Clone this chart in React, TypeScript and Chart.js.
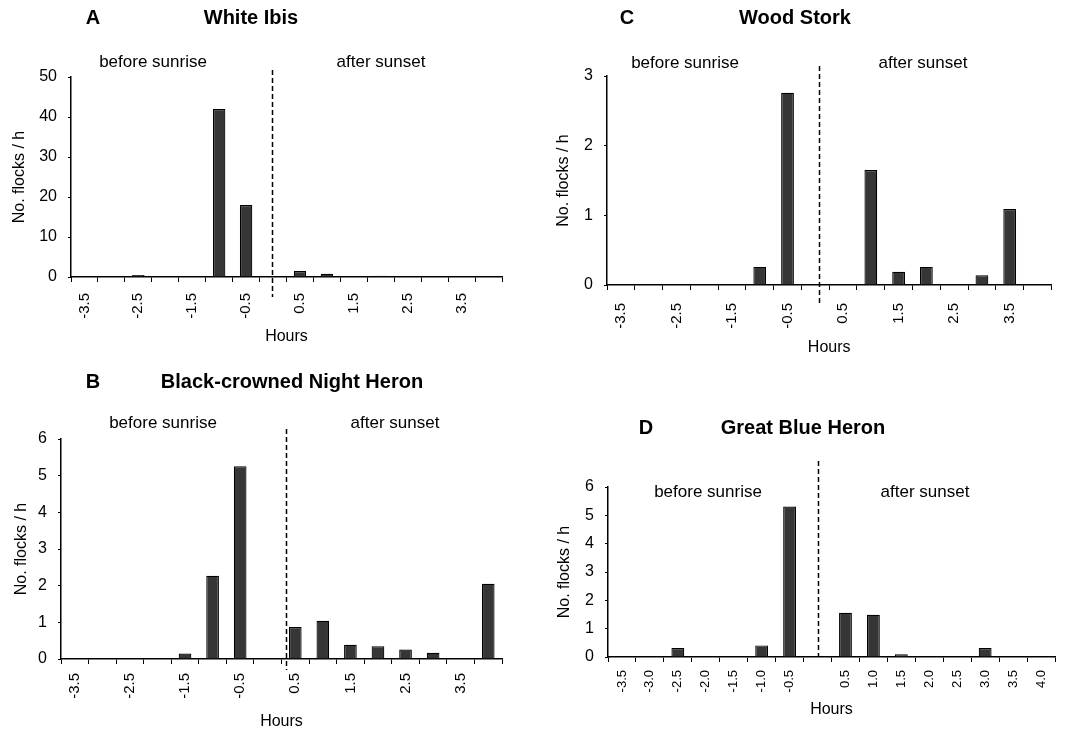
import React, { useEffect, useRef } from 'react';
import { Chart, registerables } from 'chart.js';

Chart.register(...registerables);

// ---------- data ----------
const hourCategories = ['-3.5', '-3.0', '-2.5', '-2.0', '-1.5', '-1.0', '-0.5', '', '0.5', '1.0', '1.5', '2.0', '2.5', '3.0', '3.5', '4.0'];
const sparseTickLabels = ['-3.5', '', '-2.5', '', '-1.5', '', '-0.5', '', '0.5', '', '1.5', '', '2.5', '', '3.5', ''];
const fullTickLabels = ['-3.5', '-3.0', '-2.5', '-2.0', '-1.5', '-1.0', '-0.5', '', '0.5', '1.0', '1.5', '2.0', '2.5', '3.0', '3.5', '4.0'];

const whiteIbis = [0, 0, 0.5, 0, 0, 42, 18, 0, 1.5, 0.8, 0, 0.3, 0, 0, 0, 0];
const woodStork = [0, 0, 0, 0, 0, 0.26, 2.76, 0, 0, 1.65, 0.19, 0.26, 0, 0.14, 1.09, 0];
const nightHeron = [0, 0, 0, 0, 0.15, 2.27, 5.26, 0, 0.87, 1.04, 0.39, 0.35, 0.26, 0.17, 0, 2.05];
const blueHeron = [0, 0, 0.32, 0, 0, 0.41, 5.31, 0, 1.56, 1.49, 0.1, 0, 0, 0.32, 0, 0];

const yTicksIbis = [0, 10, 20, 30, 40, 50];
const yTicksStork = [0, 1, 2, 3];
const yTicksHeron = [0, 1, 2, 3, 4, 5, 6];

const FONT = '"Liberation Sans", Arial, Helvetica, sans-serif';

type Box = { x: number; y: number; w: number; h: number };
type Plot = { l: number; r: number; t: number; b: number };

type PanelSpec = {
  letter: string;
  title: string;
  values: number[];
  tickLabels: string[];
  yTicks: number[];
  dashAt: number;
  canvas: Box;
  plot: Plot;
  letterPos: [number, number];
  titlePos: [number, number];
  beforePos: [number, number];
  afterPos: [number, number];
  dashTop: number;
  dashBottom: number;
  hoursY: number;
  yTitleX: number;
  xTickSize: number;
  xTickPad: number;
};

const panels: PanelSpec[] = [
  {
    letter: 'A', title: 'White Ibis', values: whiteIbis, tickLabels: sparseTickLabels, yTicks: yTicksIbis,
    dashAt: 6.95,
    canvas: { x: 0, y: 0, w: 535, h: 360 },
    plot: { l: 71, r: 502, t: 77, b: 277 },
    letterPos: [93, 18], titlePos: [251, 18], beforePos: [153, 62], afterPos: [381, 62],
    dashTop: 70, dashBottom: 297, hoursY: 337, yTitleX: 20, xTickSize: 15, xTickPad: 11,
  },
  {
    letter: 'C', title: 'Wood Stork', values: woodStork, tickLabels: sparseTickLabels, yTicks: yTicksStork,
    dashAt: 7.14,
    canvas: { x: 535, y: 0, w: 534, h: 360 },
    plot: { l: 607, r: 1052, t: 76, b: 285 },
    letterPos: [627, 18], titlePos: [795, 18], beforePos: [685, 63], afterPos: [923, 63],
    dashTop: 66, dashBottom: 305, hoursY: 348, yTitleX: 564, xTickSize: 15, xTickPad: 13,
  },
  {
    letter: 'B', title: 'Black-crowned Night Heron', values: nightHeron, tickLabels: sparseTickLabels, yTicks: yTicksHeron,
    dashAt: 7.65,
    canvas: { x: 0, y: 360, w: 535, h: 374 },
    plot: { l: 61, r: 502, t: 439, b: 659 },
    letterPos: [93, 382], titlePos: [292, 382], beforePos: [163, 423], afterPos: [395, 423],
    dashTop: 429, dashBottom: 670, hoursY: 722, yTitleX: 22, xTickSize: 15, xTickPad: 9,
  },
  {
    letter: 'D', title: 'Great Blue Heron', values: blueHeron, tickLabels: fullTickLabels, yTicks: yTicksHeron,
    dashAt: 7.0,
    canvas: { x: 535, y: 380, w: 534, h: 354 },
    plot: { l: 608, r: 1055, t: 487, b: 657 },
    letterPos: [646, 428], titlePos: [803, 428], beforePos: [708, 492], afterPos: [925, 492],
    dashTop: 461, dashBottom: 657, hoursY: 710, yTitleX: 565, xTickSize: 13, xTickPad: 8,
  },
];

function Panel({ spec }: { spec: PanelSpec }) {
  const ref = useRef<HTMLCanvasElement | null>(null);

  useEffect(() => {
    const canvas = ref.current;
    if (!canvas) return;
    const { canvas: cb, plot } = spec;
    const lx = (x: number) => x - cb.x;
    const ly = (y: number) => y - cb.y;

    const annot = {
      id: 'panelAnnot' + spec.letter,
      afterDraw(chart: any) {
        const ctx = chart.ctx as CanvasRenderingContext2D;
        ctx.save();
        ctx.fillStyle = '#000';
        ctx.textAlign = 'center';
        ctx.textBaseline = 'middle';
        ctx.font = `bold 20px ${FONT}`;
        ctx.fillText(spec.letter, lx(spec.letterPos[0]), ly(spec.letterPos[1]));
        ctx.fillText(spec.title, lx(spec.titlePos[0]), ly(spec.titlePos[1]));
        ctx.font = `17px ${FONT}`;
        ctx.fillText('before sunrise', lx(spec.beforePos[0]), ly(spec.beforePos[1]));
        ctx.fillText('after sunset', lx(spec.afterPos[0]), ly(spec.afterPos[1]));
        const xs = chart.scales.x;
        const dx = Math.round(xs.getPixelForValue(spec.dashAt)) + 0.5;
        ctx.strokeStyle = '#000';
        ctx.lineWidth = 1.5;
        ctx.setLineDash([5, 3]);
        ctx.beginPath();
        ctx.moveTo(dx, ly(spec.dashTop));
        ctx.lineTo(dx, ly(spec.dashBottom));
        ctx.stroke();
        ctx.restore();
      },
    };

    const yMax = spec.yTicks[spec.yTicks.length - 1];
    const yStep = spec.yTicks[1] - spec.yTicks[0];

    const chart = new Chart(canvas, {
      type: 'bar',
      data: {
        labels: hourCategories,
        datasets: [
          {
            data: spec.values,
            backgroundColor: '#363636',
            borderColor: '#000',
            borderWidth: 1.2,
            barPercentage: 0.46,
            categoryPercentage: 1,
          },
        ],
      },
      options: {
        responsive: false,
        animation: false,
        layout: {
          padding: {
            left: 0,
            top: plot.t - cb.y,
            right: cb.x + cb.w - plot.r,
            bottom: 0,
          },
        },
        plugins: {
          legend: { display: false },
          tooltip: { enabled: false },
          title: { display: false },
        },
        scales: {
          x: {
            type: 'category',
            offset: true,
            grid: {
              display: true,
              offset: true,
              drawOnChartArea: false,
              drawTicks: true,
              tickLength: 5,
              color: '#000',
              lineWidth: 1,
            },
            border: { display: true, color: '#000', width: 1.5 },
            ticks: {
              autoSkip: false,
              minRotation: 90,
              maxRotation: 90,
              padding: spec.xTickPad,
              color: '#000',
              font: { family: FONT, size: spec.xTickSize },
              callback: (_v: any, i: number) => spec.tickLabels[i],
            },
            title: {
              display: true,
              text: 'Hours',
              color: '#000',
              font: { family: FONT, size: 16 },
              padding: { top: 0, bottom: cb.y + cb.h - spec.hoursY - 9.6 },
            },
            afterFit: (s: any) => {
              s.height = cb.y + cb.h - plot.b;
            },
          },
          y: {
            min: 0,
            max: yMax,
            ticks: {
              stepSize: yStep,
              padding: 11,
              color: '#000',
              font: { family: FONT, size: 16 },
            },
            grid: {
              display: true,
              drawOnChartArea: false,
              drawTicks: true,
              tickLength: 3,
              color: '#000',
            },
            border: { display: true, color: '#000', width: 1.5 },
            title: {
              display: true,
              text: 'No. flocks / h',
              color: '#000',
              font: { family: FONT, size: 16 },
              padding: { top: spec.yTitleX - cb.x - 9.6, bottom: 0 },
            },
            afterFit: (s: any) => {
              s.width = plot.l - cb.x;
            },
          },
        },
      } as any,
      plugins: [annot],
    });

    return () => chart.destroy();
  }, [spec]);

  return (
    <canvas
      ref={ref}
      width={spec.canvas.w}
      height={spec.canvas.h}
      style={{
        position: 'absolute',
        left: spec.canvas.x,
        top: spec.canvas.y,
        width: spec.canvas.w,
        height: spec.canvas.h,
      }}
    />
  );
}

export default function App() {
  return (
    <div
      style={{
        position: 'absolute',
        left: 0,
        top: 0,
        width: 1069,
        height: 734,
        background: '#fff',
        overflow: 'hidden',
      }}
    >
      {panels.map((p) => (
        <Panel key={p.letter} spec={p} />
      ))}
    </div>
  );
}
